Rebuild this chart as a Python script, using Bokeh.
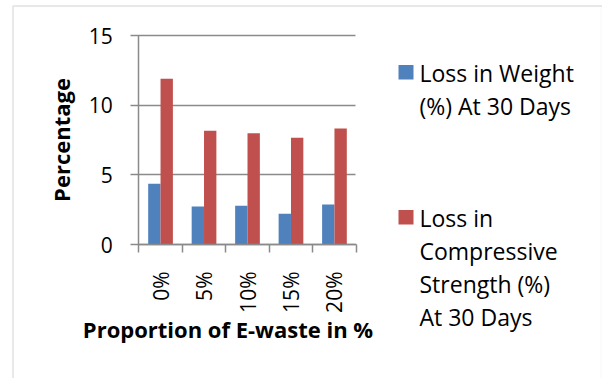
import math
from bokeh.plotting import figure
from bokeh.models import (FixedTicker, Label, BoxAnnotation, Range1d, LinearAxis,
                          ColumnDataSource)
from bokeh.embed import file_html
from bokeh.resources import INLINE

# Data
proportions = ["0%", "5%", "10%", "15%", "20%"]
loss_weight = [4.36, 2.73, 2.78, 2.20, 2.87]
loss_strength = [11.9, 8.16, 7.99, 7.66, 8.33]
y_ticks = [0, 5, 10, 15]
legend_weight = ["Loss in Weight", "(%) At 30 Days"]
legend_strength = ["Loss in", "Compressive", "Strength (%)", "At 30 Days"]
x_title = "Proportion of E-waste in %"
y_title = "Percentage"

BLUE = "#4F81BD"
RED = "#C0504D"
GRID = "#8a8a8a"
FONT = "Open Sans"

W, H = 602, 378
# plot area edges in page pixels
FL, FR, FT, FB = 138.3, 355.7, 35.0, 244.0
n_cat = len(proportions)
y_max = y_ticks[-1]
cat_px = (FR - FL) / n_cat
unit_px = (FB - FT) / y_max

# the frame fills the whole page; ranges place the plot area inside it
p = figure(width=W, height=H, output_backend="svg", toolbar_location=None,
           x_range=Range1d(-FL / cat_px, n_cat + (W - FR) / cat_px),
           y_range=Range1d(-(H - FB) / unit_px, y_max + FT / unit_px),
           x_axis_location=None, y_axis_location=None,
           min_border=0)
p.outline_line_color = None
p.background_fill_color = "white"
p.border_fill_color = "white"
p.xgrid.visible = False
p.ygrid.visible = False


def dx(px):
    return (px - FL) / cat_px


def dy(py):
    return (FB - py) / unit_px


centers = [i + 0.5 for i in range(n_cat)]
bw = 0.284
src = ColumnDataSource(dict(
    xw=[c - bw / 2 for c in centers],
    xs=[c + bw / 2 for c in centers],
    w=loss_weight, s=loss_strength))
p.vbar(x="xw", top="w", width=bw, source=src, fill_color=BLUE, line_color=None)
p.vbar(x="xs", top="s", width=bw, source=src, fill_color=RED, line_color=None)

# y axis; its inward ticks run across the plot area as gridlines
ya = LinearAxis(fixed_location=0, bounds=(0, y_max), level="underlay")
ya.ticker = FixedTicker(ticks=y_ticks)
ya.major_tick_out = 8
ya.major_tick_in = int(round(FR - FL))
ya.minor_tick_out = 0
ya.minor_tick_in = 0
ya.major_tick_line_color = GRID
ya.major_tick_line_width = 1.5
ya.axis_line_color = GRID
ya.axis_line_width = 1.5
ya.major_label_standoff = 18
ya.major_label_text_font = FONT
ya.major_label_text_font_size = "21px"
ya.major_label_text_color = "black"
ya.axis_label = y_title
ya.axis_label_text_font = FONT
ya.axis_label_text_font_style = "bold"
ya.axis_label_text_font_size = "22px"
ya.axis_label_text_color = "black"
ya.axis_label_standoff = 9
p.add_layout(ya, "left")

# x axis: labels at category centres, ticks on category boundaries
xa = LinearAxis(fixed_location=0, bounds=(0, n_cat))
xa.ticker = FixedTicker(ticks=centers, minor_ticks=list(range(n_cat + 1)))
xa.major_label_overrides = {c: lab for c, lab in zip(centers, proportions)}
xa.major_label_orientation = math.pi / 2
xa.major_tick_out = 0
xa.major_tick_in = 0
xa.minor_tick_out = 8
xa.minor_tick_in = 0
xa.minor_tick_line_color = GRID
xa.minor_tick_line_width = 1.5
xa.axis_line_color = GRID
xa.axis_line_width = 1.5
xa.major_label_standoff = 19
xa.major_label_text_font = FONT
xa.major_label_text_font_size = "21px"
xa.major_label_text_color = "black"
p.add_layout(xa, "below")

# x-axis title
p.add_layout(Label(x=dx(227.5), y=dy(328), text=x_title, text_font=FONT,
                   text_font_style="bold", text_font_size="22px",
                   text_align="center", text_baseline="middle",
                   text_color="black"))


# legend
def legend_entry(color, lines, top_row):
    p.add_layout(BoxAnnotation(left=dx(398), right=dx(413),
                               top=dy(top_row - 7.5), bottom=dy(top_row + 7),
                               fill_color=color, fill_alpha=1, line_color=None))
    for k, line in enumerate(lines):
        p.add_layout(Label(x=dx(419), y=dy(top_row + 33 * k), text=line,
                           text_font=FONT, text_font_size="23px",
                           text_align="left", text_baseline="middle",
                           text_color="black"))


legend_entry(BLUE, legend_weight, 72)
legend_entry(RED, legend_strength, 217)

# chart frame
p.add_layout(BoxAnnotation(left=dx(12.5), right=dx(900), top=dy(5.5), bottom=dy(900),
                           fill_alpha=0, line_color="#9a9a9a", line_width=1.5))
p.add_layout(BoxAnnotation(left=dx(600.5), right=dx(900), top=dy(6), bottom=dy(900),
                           fill_alpha=0, line_color="#e4e4e4", line_width=1))

open("out.html", "w").write(file_html(p, INLINE))
